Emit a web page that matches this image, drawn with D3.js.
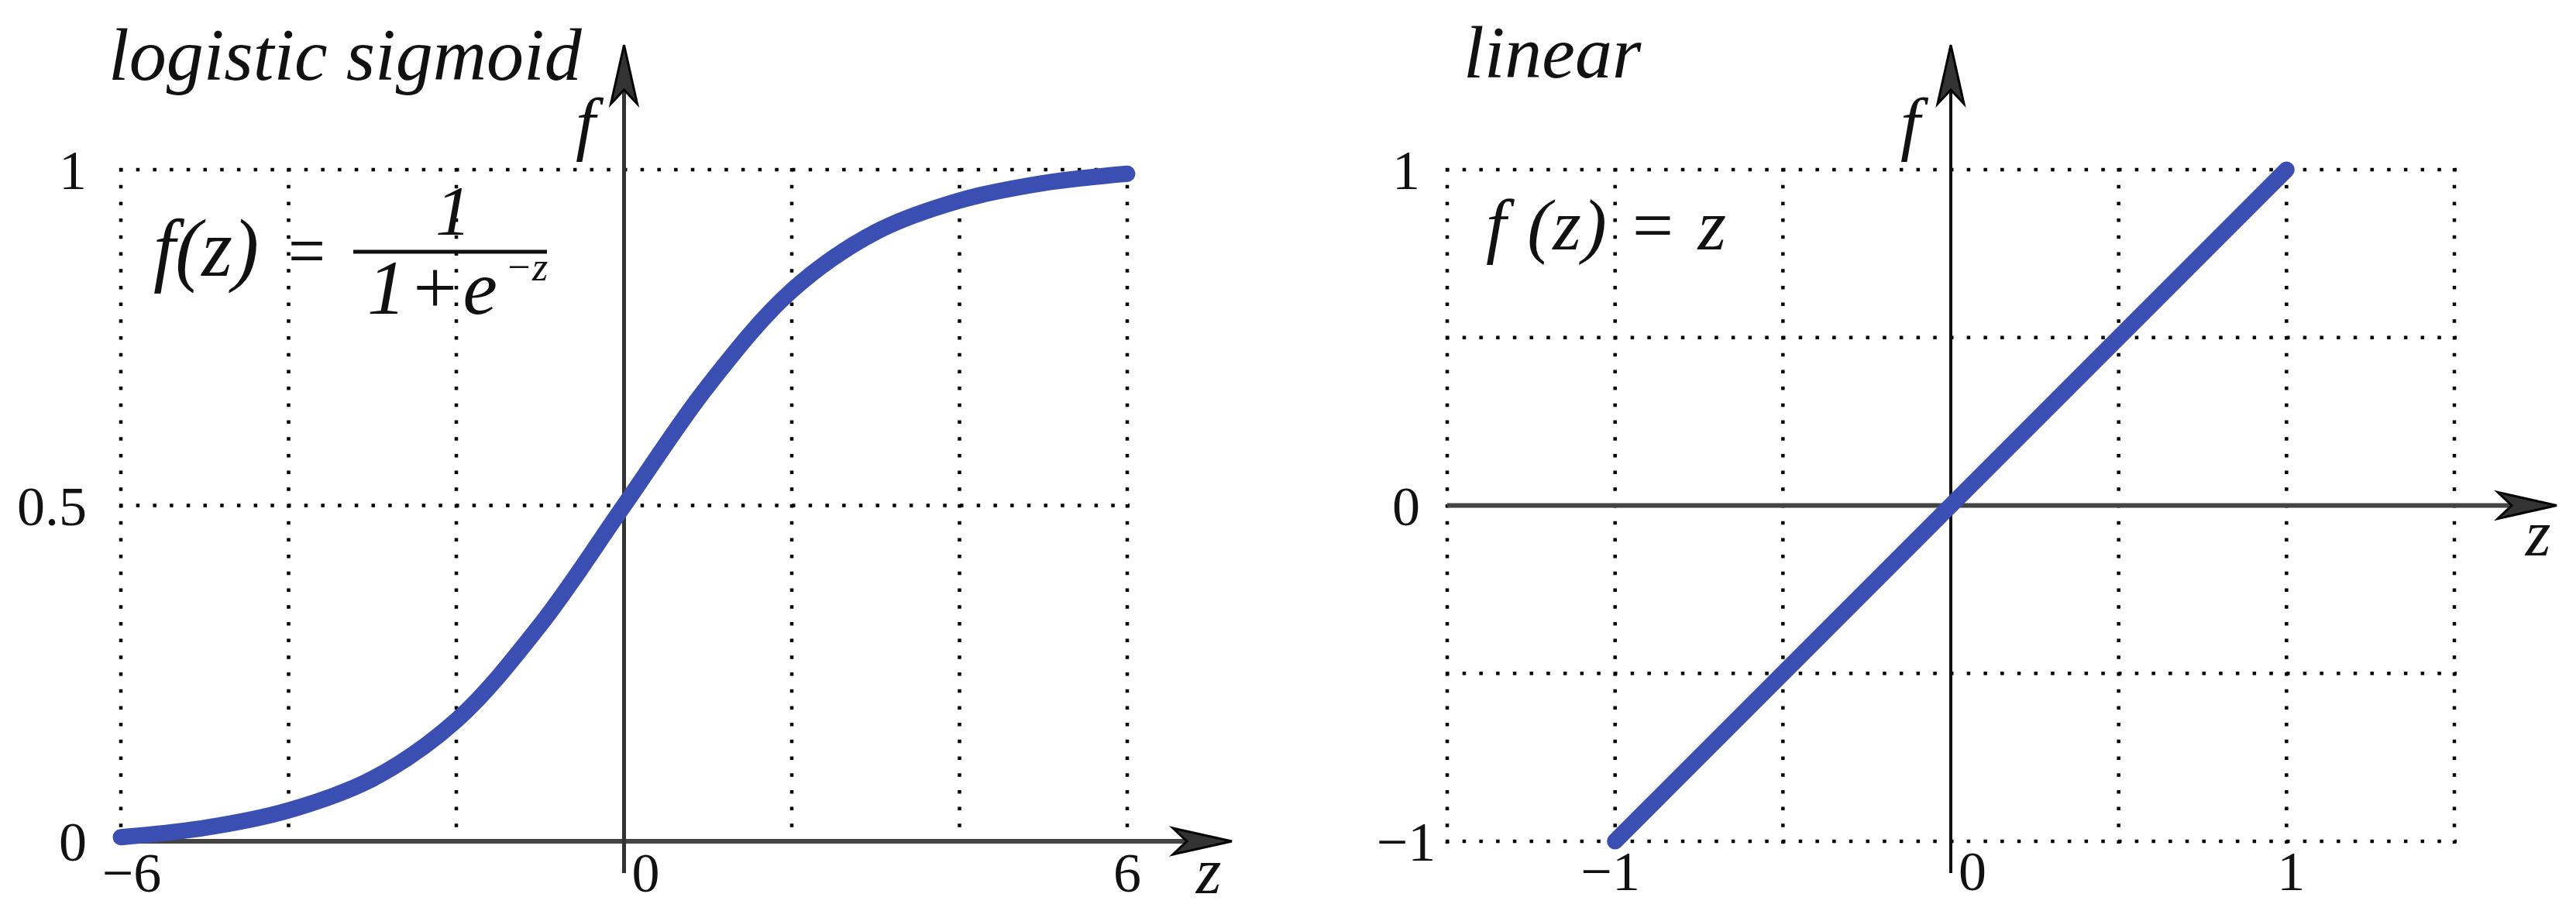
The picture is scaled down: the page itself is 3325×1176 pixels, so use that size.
<!DOCTYPE html>
<html>
<head>
<meta charset="utf-8">
<script src="https://cdn.jsdelivr.net/npm/d3@7"></script>
<style>
  html, body { margin: 0; padding: 0; background: #fff; }
  svg { display: block; }
  text { font-family: "Liberation Serif", "DejaVu Serif", serif; fill: #111; }
</style>
</head>
<body>
<svg id="chart" width="3325" height="1176"></svg>
<script>
// values
const sigmoidZ = [-6, -5, -4, -3, -2, -1, 0, 1, 2, 3, 4, 5, 6];
const sigmoidF = [0.006, 0.02, 0.046, 0.093, 0.18, 0.322, 0.5, 0.678, 0.82, 0.907, 0.954, 0.98, 0.994];
const linearZ = [-1, 1];
const linearF = [-1, 1];

const sigmoidGridX = [-6, -4, -2, 2, 4, 6];
const sigmoidGridY = [0.5, 1];
const sigmoidTicksX = [-6, 0, 6];
const sigmoidTicksY = [0, 0.5, 1];
const sigmoidTickLabelsY = ['0', '0.5', '1'];

const linearGridX = [-1.5, -1, -0.5, 0.5, 1, 1.5];
const linearGridY = [-1, -0.5, 0.5, 1];
const linearTicksX = [-1, 0, 1];
const linearTicksY = [-1, 0, 1];

const blue = '#3b4fb3';
const fmt = v => (v < 0 ? '\u2212' + Math.abs(v) : String(v));

const svg = d3.select('#chart');
svg.append('rect').attr('width', 3325).attr('height', 1176).attr('fill', '#fff');

// arrowhead with a notch, tip at (x,y), pointing 'up' or 'right'
function arrow(g, x, y, dir) {
    const len = 76, hw = 17, notch = 18;
    const p = dir === 'up'
        ? [[x, y], [x - hw, y + len], [x, y + len - notch], [x + hw, y + len]]
        : [[x, y], [x - len, y - hw], [x - len + notch, y], [x - len, y + hw]];
    g.append('path')
        .attr('d', 'M' + p.map(d => d.join(',')).join('L') + 'Z')
        .attr('fill', '#333')
        .attr('stroke', '#000')
        .attr('stroke-width', 3)
        .attr('stroke-linejoin', 'miter');
}

function grid(g, x, y, gx, gy) {
    const dash = '4.5,17.2';
    const [x0, x1] = x.domain();
    const [y0, y1] = y.domain();
    g.selectAll('.gy').data(gy).join('line')
        .attr('x1', x(x0) - 2).attr('x2', x(x1) + 3)
        .attr('y1', d => y(d)).attr('y2', d => y(d))
        .attr('stroke', '#000').attr('stroke-width', 4.5)
        .attr('stroke-dasharray', dash);
    g.selectAll('.gx').data(gx).join('line')
        .attr('x1', d => x(d)).attr('x2', d => x(d))
        .attr('y1', y(y1) - 2).attr('y2', y(y0) + 3)
        .attr('stroke', '#000').attr('stroke-width', 4.5)
        .attr('stroke-dasharray', dash);
}

// ---------- logistic sigmoid ----------
const xL = d3.scaleLinear().domain([-6, 6]).range([156, 1455]);
const yL = d3.scaleLinear().domain([0, 1]).range([1086, 219]);
const gL = svg.append('g');

grid(gL, xL, yL, sigmoidGridX, sigmoidGridY);

// axes
gL.append('line')
    .attr('x1', xL(-6)).attr('x2', 1540)
    .attr('y1', yL(0)).attr('y2', yL(0))
    .attr('stroke', '#444').attr('stroke-width', 6);
arrow(gL, 1590, yL(0), 'right');
gL.append('line')
    .attr('x1', xL(0)).attr('x2', xL(0))
    .attr('y1', 1127).attr('y2', 110)
    .attr('stroke', '#333').attr('stroke-width', 5);
arrow(gL, xL(0), 58, 'up');

// curve
gL.append('path')
    .datum(sigmoidZ.map((z, i) => [z, sigmoidF[i]]))
    .attr('d', d3.line().x(d => xL(d[0])).y(d => yL(d[1])).curve(d3.curveCatmullRom.alpha(0.5)))
    .attr('fill', 'none')
    .attr('stroke', blue)
    .attr('stroke-width', 21)
    .attr('stroke-linecap', 'round');

// tick labels
gL.selectAll('.ly').data(sigmoidTicksY).join('text')
    .attr('x', 112).attr('y', d => yL(d)).attr('dy', '0.35em')
    .attr('text-anchor', 'end')
    .style('font-size', '72px')
    .text((d, i) => sigmoidTickLabelsY[i]);
gL.selectAll('.lx').data(sigmoidTicksX).join('text')
    .attr('x', d => d === 0 ? xL(0) + 10 : xL(d) + (d < 0 ? 14 : 0))
    .attr('y', 1151)
    .attr('text-anchor', d => d === 0 ? 'start' : 'middle')
    .style('font-size', '72px')
    .text(fmt);

// labels
gL.append('text').attr('x', 140).attr('y', 103)
    .style('font-size', '96px').style('font-style', 'italic')
    .text('logistic sigmoid');
gL.append('text').attr('x', 743).attr('y', 190)
    .style('font-size', '92px').style('font-style', 'italic')
    .text('f');
gL.append('text').attr('x', 1560).attr('y', 1153).attr('text-anchor', 'middle')
    .style('font-size', '84px').style('font-style', 'italic')
    .text('z');

// formula f(z) = 1 / (1 + e^-z)
const fm = gL.append('g').style('font-style', 'italic');
fm.append('text').attr('x', 198).attr('y', 356).style('font-size', '106px')
    .attr('textLength', 136).attr('lengthAdjust', 'spacingAndGlyphs').text('f(z)');
fm.append('text').attr('x', 372).attr('y', 356).style('font-size', '96px').style('font-style', 'normal')
    .attr('textLength', 48).attr('lengthAdjust', 'spacingAndGlyphs').text('=');
fm.append('line').attr('x1', 456).attr('x2', 706).attr('y1', 325).attr('y2', 325)
    .attr('stroke', '#111').attr('stroke-width', 5);
fm.append('text').attr('x', 585).attr('y', 303).attr('text-anchor', 'middle').style('font-size', '92px').text('1');
fm.append('text').attr('x', 474).attr('y', 405).style('font-size', '100px')
    .style('letter-spacing', '3px').text('1+e');
fm.append('text').attr('x', 652).attr('y', 362).style('font-size', '52px').text('\u2212z');

// ---------- linear ----------
const xR = d3.scaleLinear().domain([-1.5, 1.5]).range([1868, 3168]);
const yR = d3.scaleLinear().domain([-1, 1]).range([1086, 219]);
const gR = svg.append('g');

grid(gR, xR, yR, linearGridX, linearGridY);

gR.append('line')
    .attr('x1', xR(-1.5)).attr('x2', 3250)
    .attr('y1', yR(0)).attr('y2', yR(0))
    .attr('stroke', '#444').attr('stroke-width', 6);
arrow(gR, 3300, yR(0), 'right');
gR.append('line')
    .attr('x1', xR(0)).attr('x2', xR(0))
    .attr('y1', 1127).attr('y2', 110)
    .attr('stroke', '#111').attr('stroke-width', 4);
arrow(gR, xR(0), 58, 'up');

gR.append('path')
    .datum(linearZ.map((z, i) => [z, linearF[i]]))
    .attr('d', d3.line().x(d => xR(d[0])).y(d => yR(d[1])))
    .attr('fill', 'none')
    .attr('stroke', blue)
    .attr('stroke-width', 21)
    .attr('stroke-linecap', 'round');

gR.selectAll('.ly').data(linearTicksY).join('text')
    .attr('x', 1815).attr('y', d => yR(d)).attr('dy', '0.35em')
    .attr('text-anchor', 'middle')
    .style('font-size', '72px')
    .text(fmt);
gR.selectAll('.lx').data(linearTicksX).join('text')
    .attr('x', d => d === 0 ? xR(0) + 10 : xR(d) + (d < 0 ? -6 : 6))
    .attr('y', 1149)
    .attr('text-anchor', d => d === 0 ? 'start' : 'middle')
    .style('font-size', '72px')
    .text(fmt);

gR.append('text').attr('x', 1889).attr('y', 100)
    .style('font-size', '96px').style('font-style', 'italic')
    .text('linear');
gR.append('text').attr('x', 2453).attr('y', 190)
    .style('font-size', '92px').style('font-style', 'italic')
    .text('f');
gR.append('text').attr('x', 3276).attr('y', 717).attr('text-anchor', 'middle')
    .style('font-size', '84px').style('font-style', 'italic')
    .text('z');
gR.append('text').attr('x', 1918).attr('y', 322)
    .style('font-size', '94px').style('font-style', 'italic')
    .attr('textLength', 310).attr('lengthAdjust', 'spacing')
    .text('f (z) = z');
</script>
</body>
</html>
